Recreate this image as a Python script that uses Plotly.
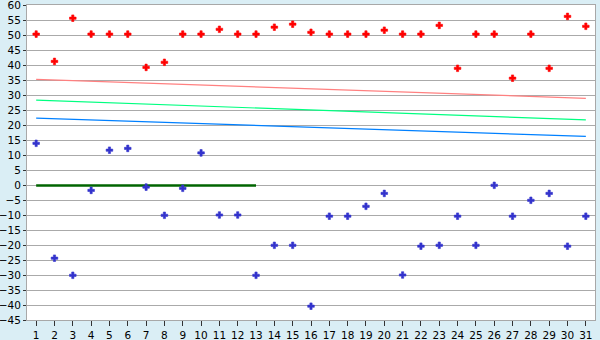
import plotly.graph_objects as go

days = list(range(1, 32))
red_vals = [50.3, 41.2, 55.6, 50.3, 50.3, 50.3, 39.2, 40.9, 50.3, 50.3,
            51.9, 50.3, 50.3, 52.6, 53.6, 50.9, 50.3, 50.3, 50.3, 51.6,
            50.3, 50.3, 53.2, 38.9, 50.3, 50.3, 35.6, 50.3, 38.9, 56.2, 52.9]
blue_vals = [13.9, -24.4, -30.1, -1.8, 11.6, 12.2, -0.7, -10.1, -1.1, 10.7,
             -10.0, -10.0, -30.1, -20.1, -20.1, -40.4, -10.4, -10.4, -7.1, -2.8,
             -30.0, -20.4, -20.1, -10.4, -20.1, -0.1, -10.4, -5.1, -2.8, -20.4, -10.4]
trend_x = [1, 31]
trend_red = [35.2, 28.9]
trend_green = [28.3, 21.7]
trend_blue = [22.3, 16.2]
base_x = [1, 13]
base_y = [-0.2, -0.2]
y_ticks = list(range(-45, 61, 5))

fig = go.Figure()
fig.add_trace(go.Scatter(x=trend_x, y=trend_red, mode="lines",
                         line=dict(color="#ff8080", width=1.2)))
fig.add_trace(go.Scatter(x=trend_x, y=trend_green, mode="lines",
                         line=dict(color="#00ff80", width=1.2)))
fig.add_trace(go.Scatter(x=trend_x, y=trend_blue, mode="lines",
                         line=dict(color="#0080ff", width=1.2)))
fig.add_trace(go.Scatter(x=base_x, y=base_y, mode="lines",
                         line=dict(color="#006400", width=2.5)))
fig.add_trace(go.Scatter(x=days, y=red_vals, mode="markers",
                         marker=dict(symbol="cross", size=5.5, color="#ff0000",
                                     line=dict(width=0.6, color="#ff0000"))))
fig.add_trace(go.Scatter(x=days, y=blue_vals, mode="markers",
                         marker=dict(symbol="cross", size=5.5, color="#3333cc",
                                     line=dict(width=0.6, color="#3333cc"))))

fig.update_layout(
    width=600, height=340,
    margin=dict(l=27, r=5, t=5, b=20, autoexpand=False),
    paper_bgcolor="#daeef5",
    plot_bgcolor="#ffffff",
    showlegend=False,
    font=dict(family="DejaVu Sans", size=10.5, color="#000000"),
)
fig.update_xaxes(
    range=[0.5, 31.5], tickmode="array", tickvals=days,
    ticktext=[str(d) for d in days],
    showgrid=False, zeroline=False, automargin=False,
    showline=True, linecolor="#a8a8a8", linewidth=1, mirror=True,
    ticks="outside", ticklen=5, tickcolor="#333333", tickwidth=1,
)
fig.update_yaxes(
    range=[-45, 60], tickmode="array", tickvals=y_ticks,
    showgrid=True, gridcolor="#aaaaaa", gridwidth=1, zeroline=False,
    automargin=False,
    showline=True, linecolor="#a8a8a8", linewidth=1, mirror=True,
    ticks="outside", ticklen=3, tickcolor="#333333", tickwidth=1,
    ticklabeloverflow="allow", ticklabelstandoff=0,
)
fig.write_html("out.html")
